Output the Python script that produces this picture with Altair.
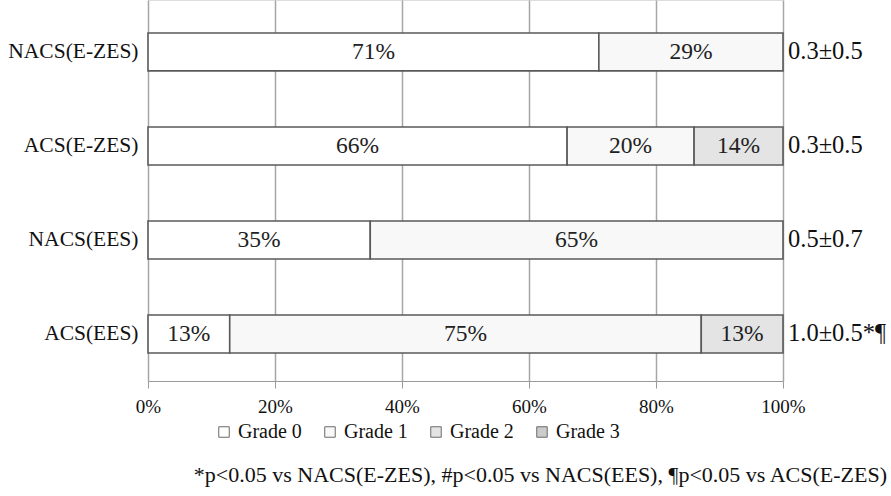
import altair as alt
import pandas as pd

# Grade distribution per group (percent of patients)
groups = ["NACS(E-ZES)", "ACS(E-ZES)", "NACS(EES)", "ACS(EES)"]
grades = ["Grade 0", "Grade 1", "Grade 2", "Grade 3"]
grade_values = {
    "NACS(E-ZES)": [71, 29, 0, 0],
    "ACS(E-ZES)": [66, 20, 14, 0],
    "NACS(EES)": [35, 65, 0, 0],
    "ACS(EES)": [13, 75, 13, 0],
}
mean_sd = ["0.3±0.5", "0.3±0.5", "0.5±0.7", "1.0±0.5*¶"]
footnote = "*p<0.05 vs NACS(E-ZES), #p<0.05 vs NACS(EES), ¶p<0.05 vs ACS(E-ZES)"
grade_colors = ["#ffffff", "#f8f8f8", "#e4e4e4", "#cbcbcb"]

rows = []
for g in groups:
    for i, v in enumerate(grade_values[g]):
        if v > 0:
            rows.append({"group": g, "grade": grades[i], "order": i, "value": v,
                         "label": f"{v}%"})
df = pd.DataFrame(rows)
side = pd.DataFrame({"group": groups, "stat": mean_sd})

W, H = 635, 381
serif = "Liberation Serif, Times New Roman, serif"

y_enc = alt.Y(
    "group:N",
    sort=groups,
    scale=alt.Scale(paddingInner=0.596, paddingOuter=0.3245, align=0.54),
    axis=alt.Axis(title=None, ticks=False, domain=False, labelFont=serif,
                  labelFontSize=21.5, labelColor="#111111", labelPadding=10),
)

bars = alt.Chart(df).mark_bar(stroke="#5a5a5a", strokeWidth=1.6).encode(
    x=alt.X(
        "value:Q",
        stack="normalize",
        scale=alt.Scale(domain=[0, 1]),
        axis=alt.Axis(title=None, format="%", values=[0, 0.2, 0.4, 0.6, 0.8, 1.0],
                      labelFont=serif, labelFontSize=19, labelColor="#111111",
                      labelFlush=False, labelPadding=9, tickSize=7,
                      tickColor="#9a9a9a", domainColor="#9a9a9a", domainWidth=1.2,
                      grid=True, gridColor="#a6a6a6", gridWidth=1.5),
    ),
    y=y_enc,
    color=alt.Color(
        "grade:N",
        scale=alt.Scale(domain=grades, range=grade_colors),
        legend=alt.Legend(title=None, orient="none", direction="horizontal",
                          legendX=66, legendY=422, symbolType="square",
                          symbolSize=110, symbolStrokeColor="#6a6a6a",
                          symbolStrokeWidth=1, labelFont=serif, labelFontSize=20,
                          labelColor="#111111", labelOffset=4, columnPadding=18),
    ),
    order=alt.Order("order:Q"),
)

labels = alt.Chart(df).transform_joinaggregate(
    total="sum(value)", groupby=["group"]
).transform_stack(
    stack="value", groupby=["group"], sort=[alt.SortField("order")], as_=["x0", "x1"]
).transform_calculate(
    mid="(datum.x0 + datum.x1) / 2 / datum.total"
).mark_text(font=serif, fontSize=23.5, color="#222222").encode(
    x=alt.X("mid:Q"),
    y=alt.Y("group:N", sort=groups),
    text="label:N",
)

stats = alt.Chart(side).mark_text(
    font=serif, fontSize=24.5, color="#111111", align="left"
).encode(
    x=alt.value(W + 5),
    y=alt.Y("group:N", sort=groups),
    text="stat:N",
)

note = alt.Chart(pd.DataFrame({"t": [footnote]})).mark_text(
    font=serif, fontSize=22, color="#111111", align="right", baseline="middle"
).encode(
    x=alt.value(W + 104),
    y=alt.value(H + 94),
    text="t:N",
)

chart = alt.layer(bars, labels, stats, note).properties(
    width=W, height=H,
    autosize=alt.AutoSizeParams(type="none"),
    padding={"left": 148, "top": 0, "right": 108, "bottom": 115},
    background="#ffffff",
).configure_view(fill="#e3e3e3", stroke=None).configure(font=serif)

chart.save("out.html", embed_options={"renderer": "svg", "actions": False})
